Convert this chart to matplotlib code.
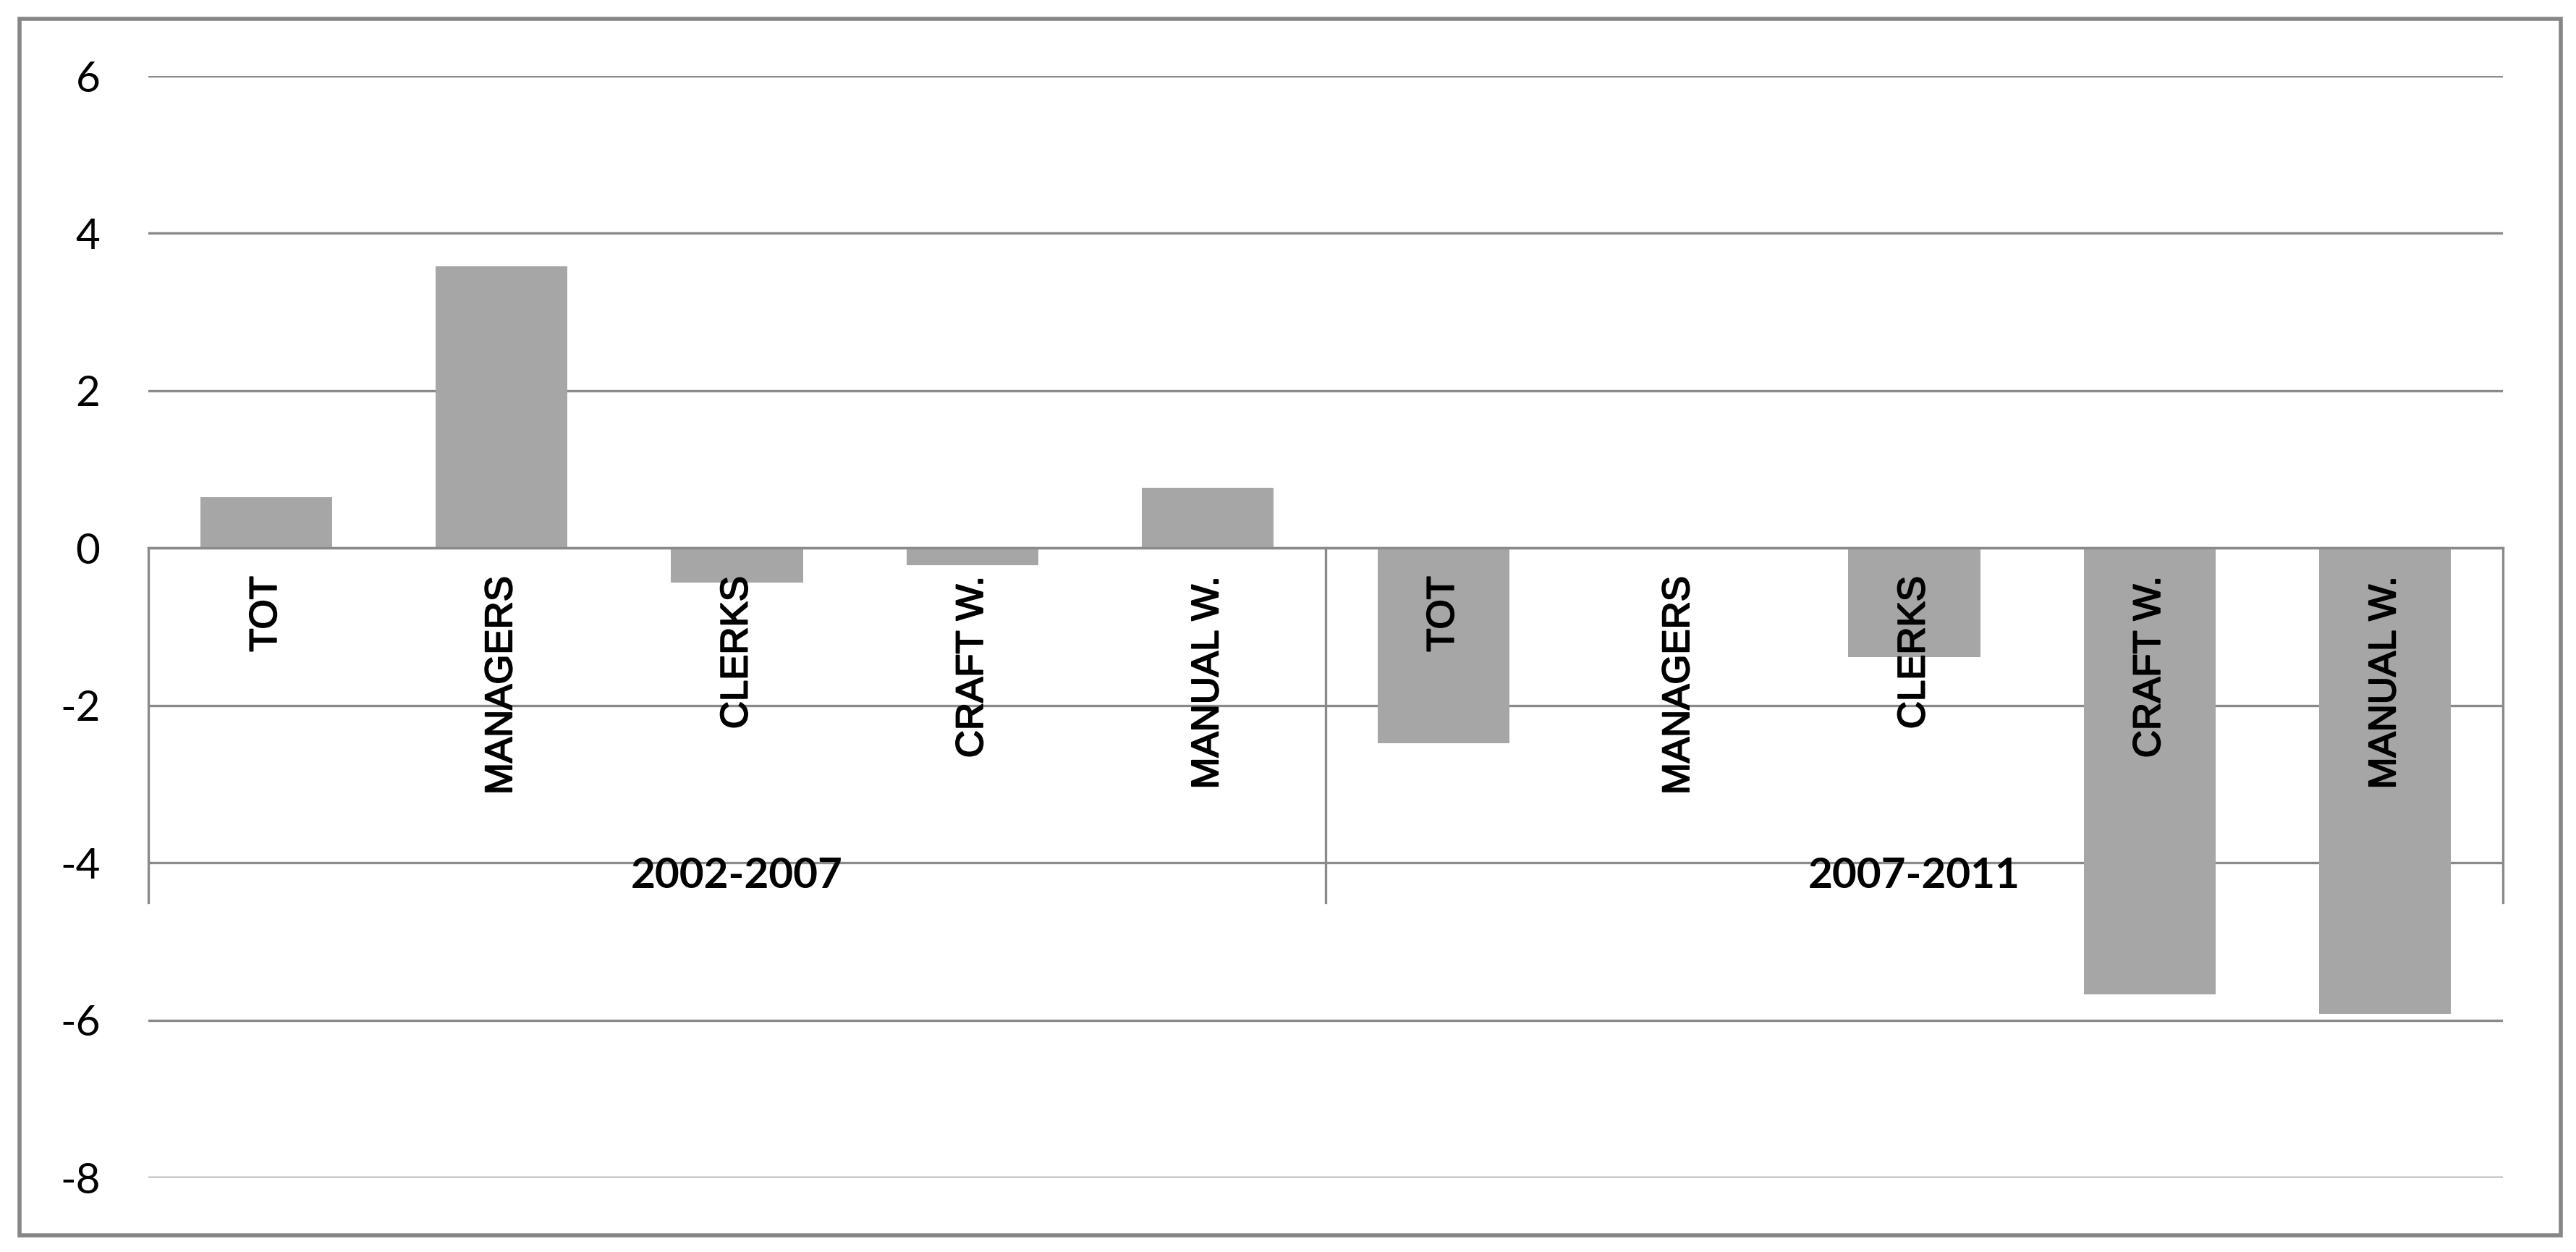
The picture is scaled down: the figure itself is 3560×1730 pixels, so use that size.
"""Change by occupation group, 2002-2007 vs 2007-2011 (Excel-style grouped category axis)."""

import matplotlib
matplotlib.use('Agg')
import matplotlib.pyplot as plt
import matplotlib.patheffects as pe
from matplotlib.patches import Rectangle

# Data
periods = ['2002-2007', '2007-2011']
occupations = ['TOT', 'MANAGERS', 'CLERKS', 'CRAFT W.', 'MANUAL W.']
values_2002_2007 = [0.65, 3.58, -0.44, -0.22, 0.77]
values_2007_2011 = [-2.48, 0.0, -1.39, -5.67, -5.92]
y_ticks = [6, 4, 2, 0, -2, -4, -6, -8]

values = values_2002_2007 + values_2007_2011
labels = occupations * len(periods)
xpos = list(range(len(values)))

grey_line = '#8a8a8a'
bar_color = '#a6a6a6'

fig = plt.figure(figsize=(17.8, 8.65), dpi=200)
ax = fig.add_axes([0.0576, 0.0595, 0.9716 - 0.0576, 0.9393 - 0.0595])

ax.bar(xpos, values, width=0.56, color=bar_color, zorder=2)

ax.set_xlim(-0.5, len(values) - 0.5)
ax.set_ylim(-8, 6)
ax.set_yticks(y_ticks)
ax.set_yticklabels([str(t) for t in y_ticks], fontfamily='Lato', fontsize=21)
ax.tick_params(axis='y', length=0, pad=24)

# category axis sits on the zero line
for side in ['top', 'left', 'right']:
    ax.spines[side].set_visible(False)
ax.spines['bottom'].set_position(('data', 0))
ax.spines['bottom'].set_color(grey_line)
ax.spines['bottom'].set_linewidth(1.2)
ax.spines['bottom'].set_zorder(3)
ax.set_xticks([])

ax.yaxis.grid(True, color=grey_line, linewidth=1.2)
ax.set_axisbelow(True)

# category labels hang below the zero line, above the bars
thicken = [pe.withStroke(linewidth=0.7, foreground='black')]
for x, lab in zip(xpos, labels):
    ax.annotate(lab, (x, 0), xytext=(0, -14), textcoords='offset points',
                rotation=90, ha='center', va='top', fontfamily='Liberation Sans',
                fontsize=19, zorder=4, path_effects=thicken)

# group separators and period labels
n = len(occupations)
for k in range(len(periods) + 1):
    ax.plot([k * n - 0.5, k * n - 0.5], [0, -4.5], color=grey_line, linewidth=1.2,
            zorder=3, clip_on=False)
for k, period in enumerate(periods):
    ax.text(k * n + (n - 1) / 2, -4.17, period, ha='center', va='center',
            fontfamily='Lato', fontweight='bold', fontsize=21, zorder=4)

# outer chart frame
fig.patches.append(Rectangle((27 / 3560, 1 - 1707 / 1730), (3539 - 27) / 3560,
                             (1707 - 26) / 1730, transform=fig.transFigure,
                             fill=False, edgecolor='#868686', linewidth=2.0))

fig.savefig('out.png', dpi=200, facecolor='white')
